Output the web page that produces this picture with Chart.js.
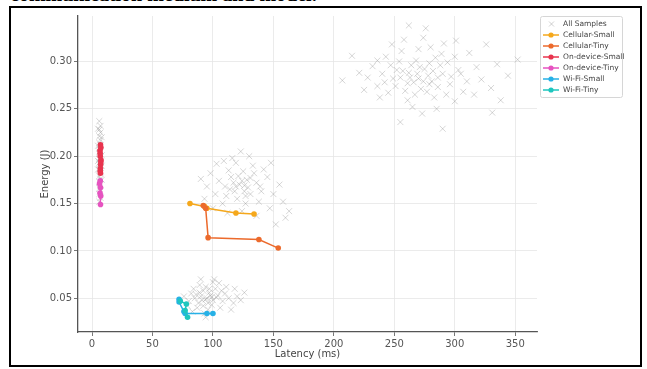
<!DOCTYPE html>
<html>
<head>
<meta charset="utf-8">
<script src="https://cdn.jsdelivr.net/npm/chart.js@4.4.1/dist/chart.umd.min.js"></script>
<style>
  html, body { margin: 0; padding: 0; background: #fff; overflow: hidden; }
  #wrap { position: relative; width: 647px; height: 369px; }
  #frame { position: absolute; left: 9px; top: 6px; width: 629px; height: 357px; border: 2px solid #000; }
  #caption { position: absolute; left: 10px; top: -17px; font: bold 20px "Liberation Serif", serif; color: #000; white-space: nowrap; }
  canvas { position: absolute; left: 0; top: 0; }
</style>
</head>
<body>
<div id="wrap">
  <div id="caption">communication medium and model.</div>
  <div id="frame"></div>
  <canvas id="chart" width="647" height="369"></canvas>
</div>
<script>
const xTicks = [0, 50, 100, 150, 200, 250, 300, 350];
const yTicks = [0.05, 0.10, 0.15, 0.20, 0.25, 0.30];

// grey background samples (latency ms, energy J)
const samplesCloud = [
  [262,0.288],[275,0.292],[281,0.279],[268,0.301],[255,0.283],[290,0.287],[272,0.271],[284,0.304],
  [247,0.296],[296,0.276],[259,0.269],[278,0.285],[266,0.278],[288,0.296],[251,0.274],[303,0.291],
  [240,0.287],[270,0.313],[293,0.265],[261,0.259],[283,0.262],[236,0.301],[310,0.279],[245,0.267],
  [274,0.325],[300,0.305],[228,0.283],[318,0.294],[256,0.311],[291,0.319],[264,0.296],[279,0.298],
  [286,0.273],[269,0.287],[252,0.291],[297,0.284],[242,0.278],[307,0.268],[265,0.252],[285,0.250],
  [232,0.295],[322,0.281],[248,0.318],[312,0.309],[276,0.335],[258,0.323],[221,0.288],[335,0.297],
  [330,0.272],[300,0.258],[238,0.262],[273,0.245],[344,0.285],[215,0.306],[326,0.318],[243,0.305],
  [261,0.277],[277,0.268],[289,0.308],[254,0.300],[270,0.282],[282,0.290],[294,0.299],[267,0.265],
  [249,0.282],[305,0.287],[236,0.274],[316,0.265],[280,0.315],[352,0.302],[338,0.259],[225,0.270],
  [301,0.322],[255,0.236],[290,0.229],[207,0.280],[262,0.338],[331,0.246],[279,0.276],[263,0.283],
  [271,0.294],[286,0.283],[257,0.290],[274,0.279]
];
const samplesMid = [
  [122,0.170],[118,0.163],[128,0.175],[115,0.178],[131,0.160],[125,0.184],[110,0.168],[136,0.172],
  [120,0.155],[127,0.150],[105,0.174],[140,0.163],[113,0.185],[133,0.190],[119,0.193],[102,0.160],
  [145,0.178],[124,0.142],[108,0.150],[150,0.160],[98,0.182],[138,0.152],[116,0.198],[130,0.200],
  [95,0.168],[147,0.145],[112,0.140],[155,0.170],[126,0.163],[121,0.179],[134,0.182],[117,0.172],
  [129,0.167],[111,0.158],[142,0.186],[103,0.192],[90,0.176],[158,0.152],[136,0.137],[100,0.145],
  [123,0.205],[160,0.135],[148,0.193],[93,0.155],[109,0.195],[139,0.168],[127,0.158],[114,0.165],
  [152,0.128],[163,0.142],[124,0.174],[119,0.168],[131,0.177],[126,0.169]
];
const samplesLow = [
  [95,0.050],[90,0.052],[100,0.048],[88,0.045],[97,0.056],[104,0.053],[92,0.058],[85,0.050],
  [99,0.043],[108,0.047],[94,0.062],[102,0.060],[87,0.040],[110,0.055],[82,0.055],[96,0.038],
  [106,0.040],[113,0.050],[89,0.064],[100,0.067],[80,0.047],[117,0.045],[93,0.034],[111,0.062],
  [84,0.060],[120,0.052],[98,0.053],[91,0.048],[103,0.051],[86,0.054],[96,0.045],[107,0.058],
  [79,0.042],[123,0.048],[101,0.070],[90,0.070],[115,0.038],[76,0.052],[126,0.056],[94,0.030],
  [105,0.066],[83,0.036],[118,0.060],[97,0.060],[92,0.042],[94,0.049],[99,0.051],[89,0.056]
];
const samplesDevice = [
  [6,0.237],[7,0.232],[6,0.228],[7,0.225],[6,0.221],[7,0.217],[6,0.214],[7,0.212],[6,0.208],
  [7,0.206],[6,0.203],[7,0.199],[6,0.197],[7,0.194],[6,0.191],[7,0.188],[6,0.186],[7,0.182],
  [6,0.179],[7,0.176],[6,0.173],[7,0.170],[6,0.166],[7,0.163],[6,0.160],[7,0.156],[6,0.152],
  [5,0.211],[8,0.201],[5,0.186],[8,0.220],[5,0.229],[8,0.175],[5,0.195],[8,0.190],[6,0.205],
  [7,0.184],[6,0.193]
];

const cellularSmall = [[81,0.150],[93,0.147],[95,0.145],[119,0.140],[134,0.139]];
const cellularTiny = [[92,0.148],[94,0.145],[96,0.114],[138,0.112],[154,0.103]];
const deviceSmall = [[7.0,0.212],[6.6,0.206],[7.3,0.209],[6.8,0.200],[7.4,0.196],[6.7,0.203],
  [7.1,0.191],[6.9,0.187],[7.3,0.194],[6.8,0.184],[7.0,0.182]];
const deviceTiny = [[6.8,0.174],[6.2,0.171],[7.0,0.167],[6.6,0.161],[7.2,0.158],[7.0,0.149]];
const wifiSmall = [[72,0.049],[72,0.046],[76,0.036],[77,0.034],[95,0.034],[100,0.034]];
const wifiTiny = [[73,0.047],[78,0.044],[77,0.037],[79,0.030]];

const allSamples = [...samplesCloud, ...samplesMid, ...samplesLow, ...samplesDevice];
const pts = arr => arr.map(([x, y]) => ({ x, y }));

function lineSet(label, data, color, order) {
  return {
    label, data: pts(data), showLine: true, order,
    borderColor: color, backgroundColor: color,
    borderWidth: 1.5, pointRadius: 2.8, pointBorderWidth: 0
  };
}

const legendBox = {
  id: 'legendBox',
  afterDraw(chart) {
    const ctx = chart.ctx;
    const x0 = 540, y0 = 16, w = 82, h = 81;
    ctx.save();
    ctx.fillStyle = 'rgba(255,255,255,0.85)';
    ctx.strokeStyle = '#d6d6d6';
    ctx.lineWidth = 1;
    ctx.beginPath();
    ctx.roundRect(x0 + 0.5, y0 + 0.5, w, h, 2);
    ctx.fill();
    ctx.stroke();
    ctx.font = '7.5px "DejaVu Sans", sans-serif';
    ctx.textBaseline = 'middle';
    chart.data.datasets.forEach((ds, i) => {
      const y = 24 + i * 11;
      if (ds.pointStyle === 'crossRot') {
        ctx.strokeStyle = 'rgba(150,150,150,0.45)';
        ctx.lineWidth = 1;
        ctx.beginPath();
        ctx.moveTo(549, y - 2.5); ctx.lineTo(554, y + 2.5);
        ctx.moveTo(554, y - 2.5); ctx.lineTo(549, y + 2.5);
        ctx.stroke();
      } else {
        ctx.strokeStyle = ds.borderColor;
        ctx.fillStyle = ds.borderColor;
        ctx.lineWidth = 1.5;
        ctx.beginPath();
        ctx.moveTo(543, y); ctx.lineTo(559, y);
        ctx.stroke();
        ctx.beginPath();
        ctx.arc(551, y, 2.6, 0, Math.PI * 2);
        ctx.fill();
      }
      ctx.fillStyle = '#444';
      ctx.fillText(ds.label, 563, y);
    });
    ctx.restore();
  }
};

new Chart(document.getElementById('chart'), {
  type: 'scatter',
  data: {
    datasets: [
      {
        label: 'All Samples', data: pts(allSamples), order: 10,
        pointStyle: 'crossRot', pointRadius: 4.2, borderWidth: 1,
        borderColor: 'rgba(135,135,135,0.34)', backgroundColor: 'rgba(135,135,135,0.34)'
      },
      lineSet('Cellular-Small', cellularSmall, '#f5a81c', 6),
      lineSet('Cellular-Tiny', cellularTiny, '#ec6a2c', 5),
      lineSet('On-device-Small', deviceSmall, '#e8344e', 4),
      lineSet('On-device-Tiny', deviceTiny, '#e653c0', 3),
      lineSet('Wi-Fi-Small', wifiSmall, '#27b1e6', 2),
      lineSet('Wi-Fi-Tiny', wifiTiny, '#1ec6be', 1)
    ]
  },
  options: {
    responsive: false,
    animation: false,
    layout: { padding: { left: 0, top: 16, right: 110, bottom: 0 } },
    plugins: { legend: { display: false }, tooltip: { enabled: false } },
    scales: {
      x: {
        type: 'linear', min: -11.6, max: 368,
        afterBuildTicks: s => { s.ticks = xTicks.map(v => ({ value: v })); },
        afterFit: s => { s.height = 37; },
        grid: { color: '#e6e6e6', lineWidth: 0.8, tickLength: 4, tickColor: '#555' },
        border: { color: '#555', width: 1.3 },
        ticks: { color: '#555', padding: 2, font: { family: 'DejaVu Sans', size: 10 }, maxRotation: 0 },
        title: { display: true, text: 'Latency (ms)', color: '#444', padding: { top: 0, bottom: 9 },
          font: { family: 'DejaVu Sans', size: 10 } }
      },
      y: {
        type: 'linear', min: 0.0144, max: 0.348,
        afterBuildTicks: s => { s.ticks = yTicks.map(v => ({ value: v })); },
        afterFit: s => { s.width = 78; },
        grid: { color: '#e6e6e6', lineWidth: 0.8, tickLength: 4, tickColor: '#555' },
        border: { color: '#555', width: 1.3 },
        ticks: { color: '#555', padding: 2, font: { family: 'DejaVu Sans', size: 10 },
          callback: v => v.toFixed(2) },
        title: { display: true, text: 'Energy (J)', color: '#444', padding: { top: 39, bottom: 0 },
          font: { family: 'DejaVu Sans', size: 10 } }
      }
    }
  },
  plugins: [legendBox]
});
</script>
</body>
</html>
